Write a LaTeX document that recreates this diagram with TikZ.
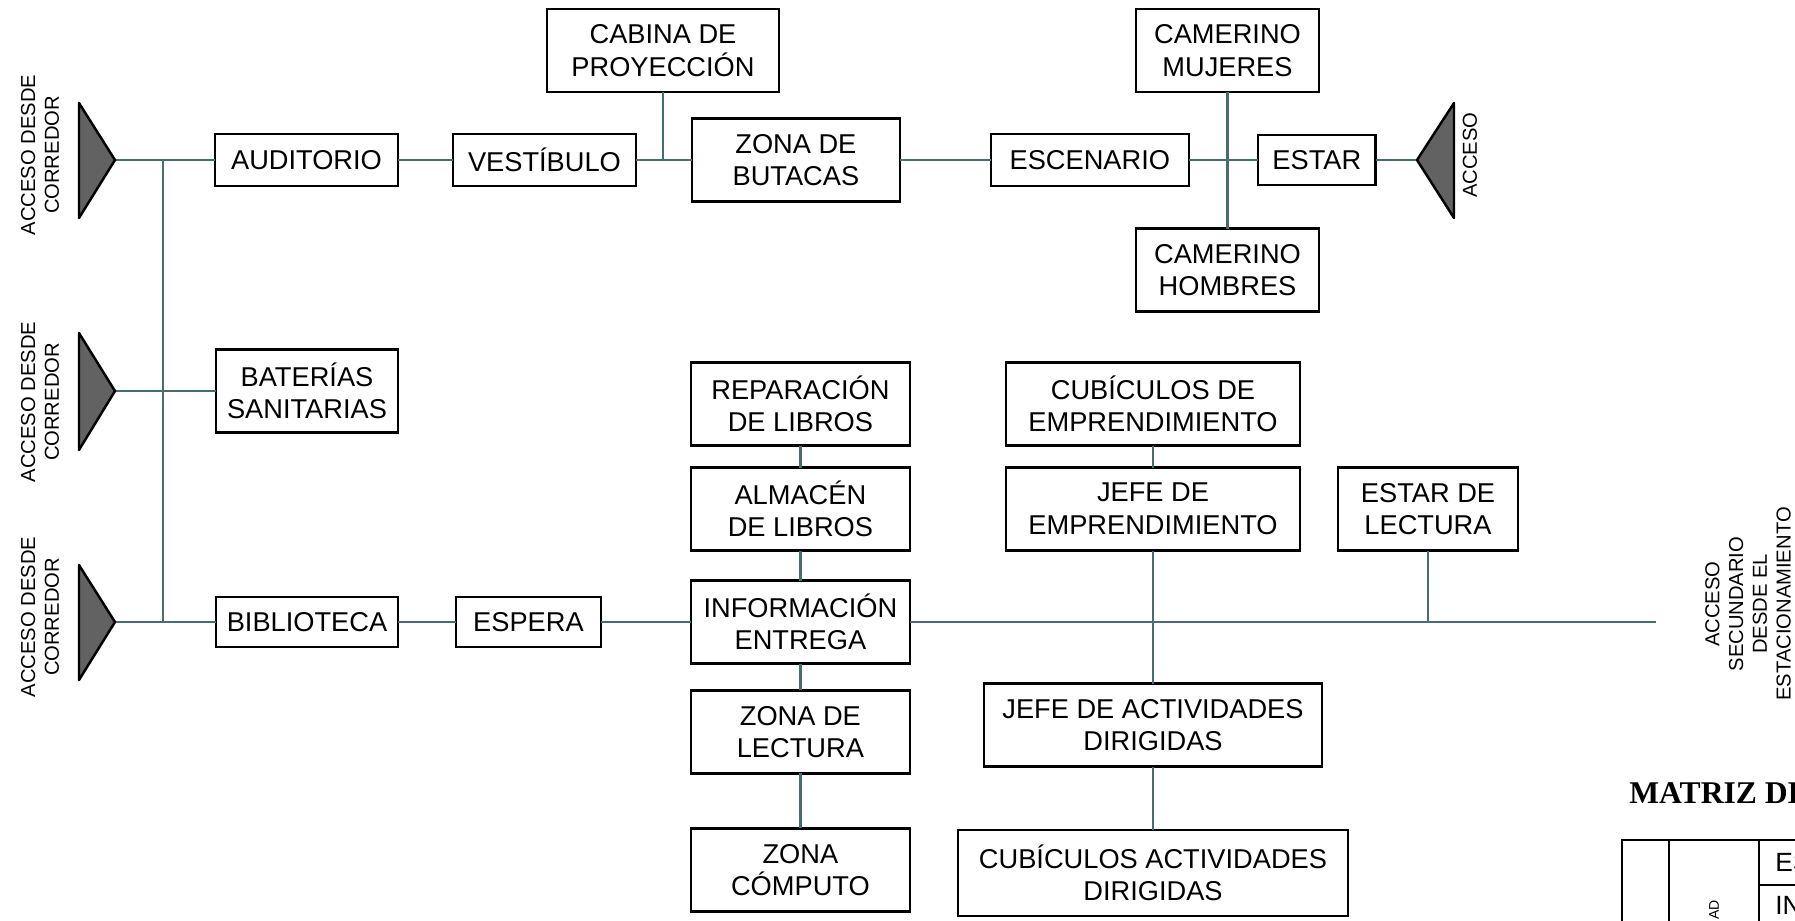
\documentclass[tikz,border=0pt]{standalone}
\usepackage{fontspec}
\setmainfont{Liberation Sans}
\newfontfamily\titulofont{Liberation Serif}
\usepackage{xcolor}
\usepackage{tikz}
\usetikzlibrary{positioning, calc}
\definecolor{lineaVerde}{RGB}{70, 110, 110}
\definecolor{grisAcceso}{RGB}{98, 98, 98}

\begin{document}
\begin{tikzpicture}[
  x=0.02cm, y=-0.02cm,
  espacio/.style={rectangle, draw=black, fill=white, line width=1.5pt, outer sep=0pt, align=center, inner sep=0pt, minimum height=1.04cm, font=\fontsize{15.5}{18.5}\selectfont},
  doble/.style={espacio, minimum height=1.66cm},
  acceso/.style={draw=black, fill=grisAcceso, line width=1.4pt, line join=round},
  rotulo/.style={rotate=90, align=center, inner sep=0pt, font=\fontsize{11.5}{13.5}\selectfont},
  enlace/.style={draw=lineaVerde, line width=1.5pt},
  tabla/.style={draw=black, line width=1.2pt}
]
  \useasboundingbox (0,0) rectangle (1795,920);
  \clip (0,0) rectangle (1795,920);
  \fill[white] (0,0) rectangle (1795,920);

  % Auditorio
  \node[espacio, minimum width=3.66cm] (auditorio) at (306.5,160) {AUDITORIO};
  \node[espacio, minimum width=3.66cm, right=1.1cm of auditorio] (vestibulo) {VESTÍBULO};
  \node[doble, minimum width=4.16cm, right=1.12cm of vestibulo] (butacas) {ZONA DE\\BUTACAS};
  \node[doble, minimum width=4.64cm] (cabina) at (663,50.5) {CABINA DE\\PROYECCIÓN};
  \node[espacio, minimum width=3.96cm, right=1.82cm of butacas] (escenario) {ESCENARIO};
  \node[espacio, minimum width=2.36cm, minimum height=1.0cm, right=1.38cm of escenario] (estar) {ESTAR};
  \node[doble, minimum width=3.66cm] (camm) at (1227.5,50.5) {CAMERINO\\MUJERES};
  \node[doble, minimum width=3.66cm] (camh) at (1227.5,270) {CAMERINO\\HOMBRES};

  % Baterias
  \node[doble, minimum width=3.64cm] (baterias) at (307,391) {BATERÍAS\\SANITARIAS};

  % Biblioteca
  \node[espacio, minimum width=3.64cm, minimum height=1.0cm] (biblio) at (307,622) {BIBLIOTECA};
  \node[espacio, minimum width=2.9cm, minimum height=1.0cm, right=1.16cm of biblio] (espera) {ESPERA};
  \node[doble, minimum width=4.38cm, right=1.8cm of espera] (info) {INFORMACIÓN\\ENTREGA};
  \node[doble, minimum width=4.38cm, above=0.6cm of info] (almacen) {ALMACÉN\\DE LIBROS};
  \node[doble, minimum width=4.38cm, above=0.44cm of almacen] (repar) {REPARACIÓN\\DE LIBROS};
  \node[doble, minimum width=4.38cm, below=0.54cm of info] (lectura) {ZONA DE\\LECTURA};
  \node[doble, minimum width=4.38cm, below=1.1cm of lectura] (computo) {ZONA\\CÓMPUTO};

  % Emprendimiento y actividades
  \node[doble, minimum width=5.88cm] (jefeemp) at (1153,509) {JEFE DE\\EMPRENDIMIENTO};
  \node[doble, minimum width=5.88cm, above=0.44cm of jefeemp] (cubemp) {CUBÍCULOS DE\\EMPRENDIMIENTO};
  \node[doble, minimum width=6.76cm] (jefeact) at (1153,725) {JEFE DE ACTIVIDADES\\DIRIGIDAS};
  \node[doble, minimum width=7.8cm, minimum height=1.72cm] (cubact) at (1153,873) {CUBÍCULOS ACTIVIDADES\\DIRIGIDAS};
  \node[doble, minimum width=3.6cm] (estarlec) at (1428,509) {ESTAR DE\\LECTURA};

  % Accesos
  \coordinate (acc1) at (115,160);
  \coordinate (acc2) at (115,391);
  \coordinate (acc3) at (115,622);
  \coordinate (acc4) at (1417,160);
  \coordinate (bus1) at (163,160);
  \coordinate (bus3) at (163,622);
  \coordinate (fin) at (1656,622);

  % Conexiones
  \path[enlace] (acc1) -- (auditorio) -- (vestibulo) -- (butacas) -- (escenario) -- (estar) -- (acc4);
  \path[enlace] (bus1) -- (bus3);
  \path[enlace] (acc2) -- (baterias);
  \path[enlace] (acc3) -- (biblio) -- (espera) -- (info) -- (fin);
  \path[enlace] (cabina) -- (cabina |- vestibulo);
  \path[enlace] (camm) -- (camh);
  \path[enlace] (repar) -- (almacen) -- (info) -- (lectura) -- (computo);
  \path[enlace] (cubemp) -- (jefeemp) -- (jefeact) -- (cubact);
  \path[enlace] (estarlec) -- (estarlec |- fin);

  \filldraw[acceso] (acc1) -- ++(-36,-57) -- ++(0,115) -- cycle;
  \filldraw[acceso] (acc2) -- ++(-36,-58) -- ++(0,117) -- cycle;
  \filldraw[acceso] (acc3) -- ++(-36,-57) -- ++(0,115) -- cycle;
  \filldraw[acceso] (acc4) -- ++(37,-57) -- ++(0,115) -- cycle;

  \node[rotulo] (racc1) at (40,155) {ACCESO DESDE\\CORREDOR};
  \node[rotulo] (racc2) at (40,402) {ACCESO DESDE\\CORREDOR};
  \node[rotulo] (racc3) at (40,617) {ACCESO DESDE\\CORREDOR};
  \node[rotulo] (racc4) at (1470,155) {ACCESO};
  \node[rotulo] (rsec) at (1748,604) {ACCESO\\SECUNDARIO\\DESDE EL\\ESTACIONAMIENTO};

  % Matriz (recortada)
  \node[anchor=base west, inner sep=0pt, font=\titulofont\bfseries\fontsize{18}{20}\selectfont] (matriz) at (1629,803) {MATRIZ DE};
  \draw[tabla] (1622,925) -- (1622,840) -- (1800,840);
  \draw[tabla] (1669,840) -- (1669,925);
  \draw[tabla] (1759,840) -- (1759,925);
  \draw[tabla] (1759,885) -- (1800,885);
  \node[anchor=west, inner sep=0pt, font=\fontsize{15}{18}\selectfont] (fes) at (1775,862) {ES};
  \node[anchor=west, inner sep=0pt, font=\fontsize{15}{18}\selectfont] (fin2) at (1775,905) {IN};
  \node[rotate=90, anchor=east, inner sep=0pt, font=\fontsize{8}{9}\selectfont] (fad) at (1714,900) {AD};

\end{tikzpicture}
\end{document}
